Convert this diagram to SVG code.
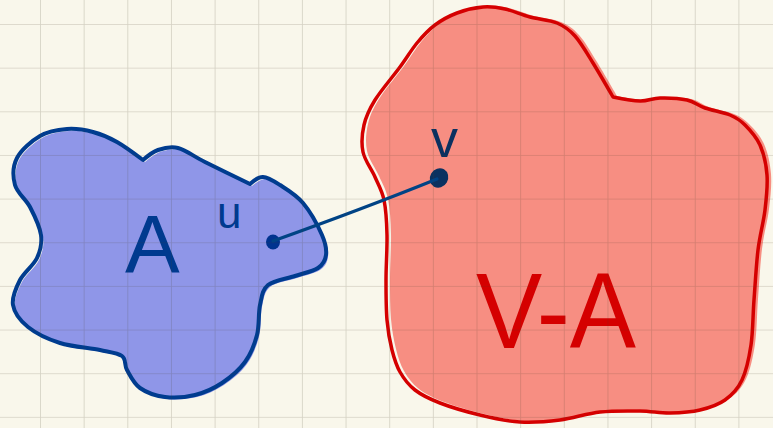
<svg xmlns="http://www.w3.org/2000/svg" width="773" height="428" viewBox="0 0 773 428">
<defs>
<style>
.bg{fill:#f9f7eb}
.grid{fill:none;stroke:rgba(70,60,40,0.2);stroke-width:1.7}
.bfill{fill:#8f96e8}
.bline{fill:none;stroke:#003c8f;stroke-width:4;stroke-linejoin:round}
.rfill{fill:#f78e82}
.rline{fill:none;stroke:#d50000;stroke-width:3.5;stroke-linejoin:round}
.edge{fill:none;stroke:#004385;stroke-width:3.2;stroke-linecap:round}
.lbl{font-family:"Liberation Sans","DejaVu Sans",sans-serif}
</style>
<path id="blobA" d="M40,136 C48.3,131.2 58.2,129.7 67,129 C75.8,128.3 84.7,129.8 93,132 C101.3,134.2 108.7,137.3 117,142 C125.3,146.7 143,160 143,160 C143,160 152.2,152 158,150 C163.8,148 170.2,146 178,148 C185.8,150 193,156 205,162 C217,168 250,184 250,184 C250,184 258,176.8 263,177 C268,177.2 273.3,180.7 280,185 C286.7,189.3 296,194.7 303,203 C310,211.3 318.2,226.3 322,235 C325.8,243.7 326.7,249.5 326,255 C325.3,260.5 323.2,264.5 318,268 C312.8,271.5 303.3,273.2 295,276 C286.7,278.8 273.8,280.2 268,285 C262.2,289.8 261.8,296.7 260,305 C258.2,313.3 259.5,325.5 257,335 C254.5,344.5 250.8,354 245,362 C239.2,370 230.3,377.5 222,383 C213.7,388.5 204.5,392.7 195,395 C185.5,397.3 174.2,398.2 165,397 C155.8,395.8 146.3,392.5 140,388 C133.7,383.5 130,375.3 127,370 C124,364.7 126.5,359.3 122,356 C117.5,352.7 110.3,352.2 100,350 C89.7,347.8 72,346.8 60,343 C48,339.2 35.8,333.3 28,327 C20.2,320.7 14.3,312.8 13,305 C11.7,297.2 16,287.8 20,280 C24,272.2 33.5,265.5 37,258 C40.5,250.5 42.2,243.5 41,235 C39.8,226.5 34.3,215.3 30,207 C25.7,198.7 17.2,193.2 15,185 C12.8,176.8 12.8,166.2 17,158 C21.2,149.8 31.7,140.8 40,136 Z"/>
<path id="blobB" d="M457,13 C465,10 475,7.7 483,7 C491,6.3 497.2,7.3 505,9 C512.8,10.7 521.3,14.7 530,17 C538.7,19.3 549.5,19.8 557,23 C564.5,26.2 569,29.3 575,36 C581,42.7 586.7,52.8 593,63 C599.3,73.2 613,97 613,97 C613,97 632.2,100.8 640,101 C647.8,101.2 652.2,98.2 660,98 C667.8,97.8 679.5,98.3 687,100 C694.5,101.7 697.8,105.5 705,108 C712.2,110.5 723.3,112.2 730,115 C736.7,117.8 740,120 745,125 C750,130 756.3,136.7 760,145 C763.7,153.3 766.2,164.2 767,175 C767.8,185.8 766.5,197.5 765,210 C763.5,222.5 759.8,235 758,250 C756.2,265 755.2,284.2 754,300 C752.8,315.8 753,331.7 751,345 C749,358.3 746.3,370.8 742,380 C737.7,389.2 732,395 725,400 C718,405 709.2,407.8 700,410 C690.8,412.2 680,412.8 670,413 C660,413.2 651.7,411.2 640,411 C628.3,410.8 613.3,410.5 600,412 C586.7,413.5 573.3,418.3 560,420 C546.7,421.7 533.3,422.8 520,422 C506.7,421.2 493.3,418.2 480,415 C466.7,411.8 450.8,407.2 440,403 C429.2,398.8 421.7,395.2 415,390 C408.3,384.8 403.8,378.7 400,372 C396.2,365.3 394.2,358.7 392,350 C389.8,341.3 388,331.7 387,320 C386,308.3 386,294.2 386,280 C386,265.8 387.3,248.3 387,235 C386.7,221.7 386,209.7 384,200 C382,190.3 378.5,185 375,177 C371.5,169 364.8,160.7 363,152 C361.2,143.3 362,133.7 364,125 C366,116.3 369,109.7 375,100 C381,90.3 393,76.5 400,67 C407,57.5 411.2,50 417,43 C422.8,36 428.3,30 435,25 C441.7,20 449,16 457,13 Z"/>
<pattern id="gridpat" patternUnits="userSpaceOnUse" x="40" y="24" width="43.65" height="43.65">
<path class="grid" d="M0,0 V43.65 M0,0 H43.65"/>
</pattern>
</defs>
<rect class="bg" x="0" y="0" width="773" height="428"/>
<g id="node-A">
<use href="#blobA" class="bfill" transform="translate(2 2)"/>
<use href="#blobA" class="bline"/>
<text class="lbl" x="125" y="272" font-size="82" fill="#003a8f">A</text>
<text class="lbl" x="217" y="228" font-size="44" fill="#003a8f">u</text>
<ellipse cx="273" cy="242" rx="7" ry="7.5" fill="#00338f"/>
</g>
<g id="node-VA">
<use href="#blobB" class="rfill" transform="translate(4 -1)"/>
<use href="#blobB" class="rline"/>
<text class="lbl" x="476" y="348" font-size="108" fill="#d50000" textLength="160" lengthAdjust="spacingAndGlyphs">V-A</text>
<text class="lbl" x="431" y="157" font-size="54" fill="#0b3160">v</text>
<ellipse cx="439" cy="178" rx="9" ry="10" fill="#0b3160" transform="rotate(30 439 178)"/>
</g>
<g id="connectors">
<path class="edge" d="M273,241 C315,226 380,202 437,179"/>
</g>
<rect x="0" y="0" width="773" height="428" fill="url(#gridpat)"/>
</svg>
